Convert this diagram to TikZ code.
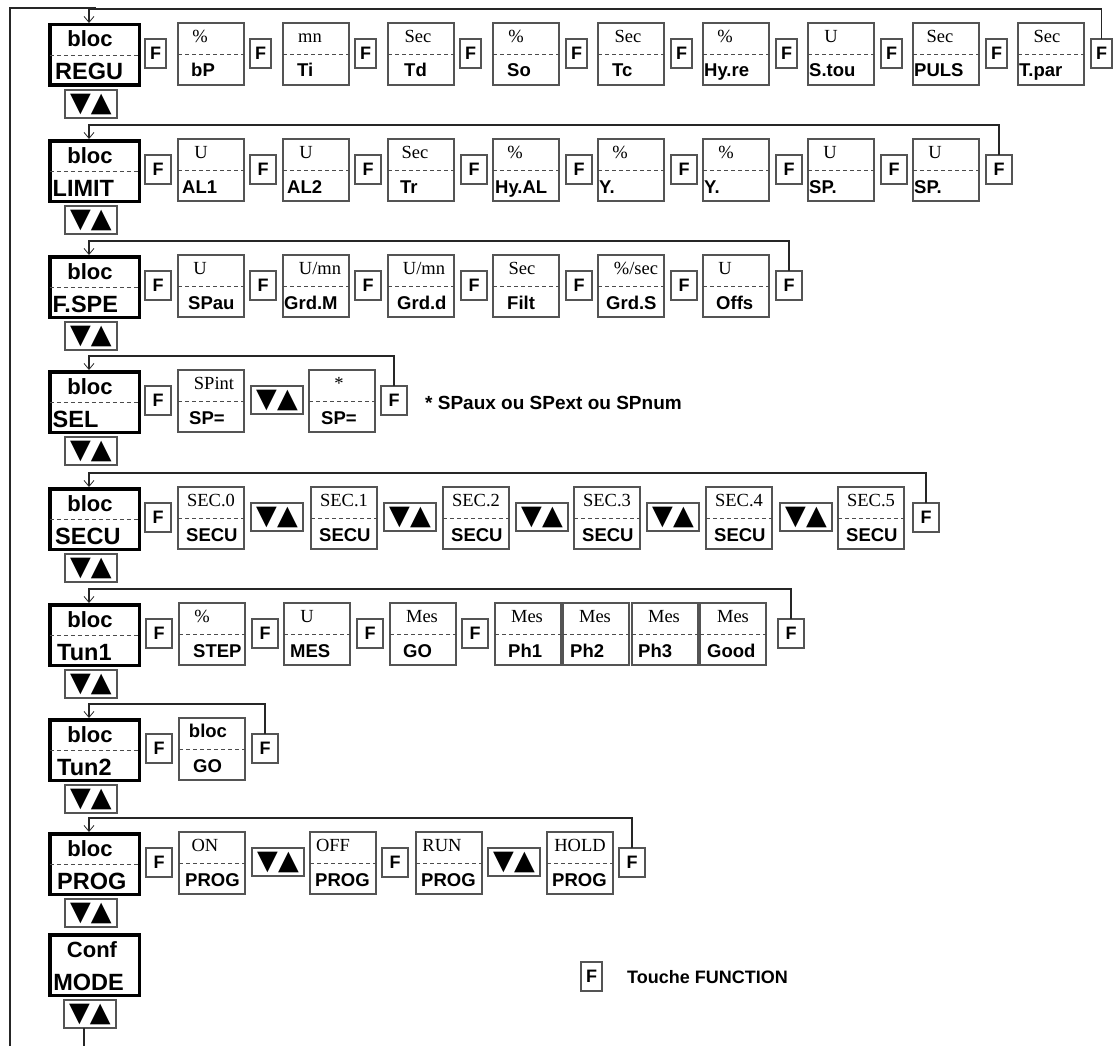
\documentclass[tikz,border=0pt]{standalone}
\usepackage{fontspec}
\setmainfont{Liberation Serif}
\setsansfont{Liberation Sans}
\newfontfamily\symfont{DejaVu Sans}
\usetikzlibrary{arrows.meta,calc}
\definecolor{bgray}{gray}{0.33}
\definecolor{dgray}{gray}{0.3}
\tikzset{
  vbox/.style={draw=bgray,line width=1.1pt,minimum width=66pt,minimum height=62pt,inner sep=0pt,outer sep=0pt},
  mbox/.style={draw=black,line width=3.5pt,minimum width=89.5pt,minimum height=60.5pt,inner sep=0pt,outer sep=0pt},
  fbox/.style={draw=bgray,line width=1.1pt,minimum width=26pt,minimum height=29pt,inner sep=0pt,outer sep=0pt,font=\sffamily\bfseries\fontsize{18}{18}\selectfont},
  udbox/.style={draw=bgray,line width=1.1pt,minimum width=52pt,minimum height=28pt,inner sep=0pt,outer sep=0pt,font=\symfont\fontsize{27}{27}\selectfont},
  dsh/.style={draw=dgray,line width=0.9pt,dash pattern=on 4pt off 3pt},
  unitlab/.style={anchor=base,inner sep=0pt,font=\fontsize{18.5}{18.5}\selectfont},
  vallab/.style={anchor=base west,inner sep=0pt,font=\sffamily\bfseries\fontsize{18.5}{18.5}\selectfont},
  mainlab/.style={inner sep=0pt,font=\sffamily\bfseries\fontsize{22}{22}\selectfont},
  mainbig/.style={inner sep=0pt,font=\sffamily\bfseries\fontsize{23.5}{23.5}\selectfont},
  conn/.style={draw=black!85,line width=1.1pt},
  arr/.style={-{Straight Barb[length=6pt,width=10pt,line width=0.8pt]}},
  note/.style={inner sep=0pt,anchor=base west,font=\sffamily\bfseries\fontsize{19}{19}\selectfont},
  legnote/.style={inner sep=0pt,anchor=base west,font=\sffamily\bfseries\fontsize{18}{18}\selectfont},
}
% name, x, top, unit, unit centre offset, label, label left offset
\newcommand\valbox[7]{%
  \node[vbox,anchor=north west] (#1) at (#2,#3) {};
  \draw[dsh] (#1.west) -- (#1.east);
  \node[unitlab] (#1u) at ($(#1.north west)+(#5,19.5)$) {#4};
  \node[vallab] (#1l) at ($(#1.north west)+(#7,54)$) {#6};
}
% name, x, row top, width
\newcommand\fkey[4]{%
  \node[fbox,minimum width=#4pt,anchor=north west] (#1) at (#2,#3+16) {F};
}
% name, x, y
\newcommand\udkey[3]{%
  \node[udbox,anchor=north west] (#1) at (#2,#3) {▼▲};
}
% name, row top, top text, bottom text, bottom x
\newcommand\mainblk[5]{%
  \node[mbox,anchor=north west] (#1) at (49.75,#2+1.75) {};
  \draw[dsh] (#1.west) -- (#1.east);
  \node[mainlab,anchor=base] (#1t) at (90,#2+24) {#3};
  \node[mainbig,anchor=base west] (#1b) at (#5,#2+57) {#4};
  \udkey{#1ud}{65}{#2+67}
  \coordinate (#1in) at (89,#2);
}
% last F, main block, row top
\newcommand\loopback[3]{%
  \draw[conn,arr] (#1.north) |- (89,#3-14) -- (#2in);
}
\begin{document}
\begin{tikzpicture}[x=1pt,y=-1pt]
\useasboundingbox (0,0) rectangle (1115,1046);
% ---------- row 1
\mainblk{m1}{23}{bloc}{REGU}{55}
\fkey{r1f0}{145}{23}{21}
\valbox{r1b1}{178}{23}{\%}{22}{bP}{13}
\fkey{r1f1}{250}{23}{21}
\valbox{r1b2}{283}{23}{mn}{27}{Ti}{14}
\fkey{r1f2}{355}{23}{21}
\valbox{r1b3}{388}{23}{Sec}{30}{Td}{16}
\fkey{r1f3}{460}{23}{21}
\valbox{r1b4}{493}{23}{\%}{23}{So}{14}
\fkey{r1f4}{566}{23}{21}
\valbox{r1b5}{598}{23}{Sec}{30}{Tc}{14}
\fkey{r1f5}{671}{23}{21}
\valbox{r1b6}{703}{23}{\%}{22}{Hy.re}{1}
\fkey{r1f6}{776}{23}{21}
\valbox{r1b7}{808}{23}{U}{23}{S.tou}{1}
\fkey{r1f7}{881}{23}{21}
\valbox{r1b8}{913}{23}{Sec}{27}{PULS}{1}
\fkey{r1f8}{986}{23}{21}
\valbox{r1b9}{1018}{23}{Sec}{29}{T.par}{1}
\fkey{r1f9}{1091}{23}{21}
\loopback{r1f9}{m1}{23}
% ---------- row 2
\mainblk{m2}{139}{bloc}{LIMIT}{52.5}
\fkey{r2f0}{145}{139}{26}
\valbox{r2b1}{178}{139}{U}{23}{AL1}{4}
\fkey{r2f1}{250}{139}{26}
\valbox{r2b2}{283}{139}{U}{23}{AL2}{4}
\fkey{r2f2}{355}{139}{26}
\valbox{r2b3}{388}{139}{Sec}{27}{Tr}{12}
\fkey{r2f3}{461}{139}{26}
\valbox{r2b4}{493}{139}{\%}{22}{Hy.AL}{2}
\fkey{r2f4}{566}{139}{26}
\valbox{r2b5}{598}{139}{\%}{22}{Y.}{1}
\fkey{r2f5}{671}{139}{26}
\valbox{r2b6}{703}{139}{\%}{23}{Y.}{1}
\fkey{r2f6}{776}{139}{26}
\valbox{r2b7}{808}{139}{U}{22}{SP.}{1}
\fkey{r2f7}{881}{139}{26}
\valbox{r2b8}{913}{139}{U}{22}{SP.}{1}
\fkey{r2f8}{986}{139}{26}
\loopback{r2f8}{m2}{139}
% ---------- row 3
\mainblk{m3}{255}{bloc}{F.SPE}{52.5}
\fkey{r3f0}{145}{255}{26}
\valbox{r3b1}{178}{255}{U}{22}{SPau}{10}
\fkey{r3f1}{250}{255}{26}
\valbox{r3b2}{283}{255}{U/mn}{37}{Grd.M}{1}
\fkey{r3f2}{355}{255}{26}
\valbox{r3b3}{388}{255}{U/mn}{36}{Grd.d}{9}
\fkey{r3f3}{461}{255}{26}
\valbox{r3b4}{493}{255}{Sec}{29}{Filt}{14}
\fkey{r3f4}{566}{255}{26}
\valbox{r3b5}{598}{255}{\%/sec}{38}{Grd.S}{8}
\fkey{r3f5}{671}{255}{26}
\valbox{r3b6}{703}{255}{U}{22}{Offs}{13}
\fkey{r3f6}{776}{255}{26}
\loopback{r3f6}{m3}{255}
% ---------- row 4
\mainblk{m4}{370}{bloc}{SEL}{52.5}
\fkey{r4f0}{145}{370}{26}
\valbox{r4b1}{178}{370}{SPint}{36}{SP=}{11}
\udkey{r4u1}{251}{386}
\valbox{r4b2}{309}{370}{*}{30}{SP=}{12}
\fkey{r4f1}{381}{370}{26}
\loopback{r4f1}{m4}{370}
\node[note] (selnote) at (425,409) {* SPaux ou SPext ou SPnum};
% ---------- row 5
\mainblk{m5}{487}{bloc}{SECU}{55}
\fkey{r5f0}{145}{487}{26}
\valbox{r5b0}{178}{487}{SEC.0}{33}{SECU}{8}
\udkey{r5u1}{251}{503}
\valbox{r5b1}{311}{487}{SEC.1}{33}{SECU}{8}
\udkey{r5u2}{384}{503}
\valbox{r5b2}{443}{487}{SEC.2}{33}{SECU}{8}
\udkey{r5u3}{516}{503}
\valbox{r5b3}{574}{487}{SEC.3}{33}{SECU}{8}
\udkey{r5u4}{647}{503}
\valbox{r5b4}{706}{487}{SEC.4}{33}{SECU}{8}
\udkey{r5u5}{780}{503}
\valbox{r5b5}{838}{487}{SEC.5}{33}{SECU}{8}
\fkey{r5f1}{913}{487}{26}
\loopback{r5f1}{m5}{487}
% ---------- row 6
\mainblk{m6}{603}{bloc}{Tun1}{57}
\fkey{r6f0}{146}{603}{26}
\valbox{r6b1}{179}{603}{\%}{23}{STEP}{14}
\fkey{r6f1}{252}{603}{26}
\valbox{r6b2}{284}{603}{U}{23}{MES}{6}
\fkey{r6f2}{357}{603}{26}
\valbox{r6b3}{390}{603}{Mes}{32}{GO}{13}
\fkey{r6f3}{462}{603}{26}
\valbox{r6b4}{495}{603}{Mes}{32}{Ph1}{13}
\valbox{r6b5}{563}{603}{Mes}{32}{Ph2}{7}
\valbox{r6b6}{632}{603}{Mes}{32}{Ph3}{6}
\valbox{r6b7}{700}{603}{Mes}{33}{Good}{7}
\fkey{r6f4}{778}{603}{26}
\loopback{r6f4}{m6}{603}
% ---------- row 7
\mainblk{m7}{718}{bloc}{Tun2}{57}
\fkey{r7f0}{146}{718}{26}
\valbox{r7b1}{179}{718}{\sffamily\bfseries bloc}{29}{GO}{14}
\fkey{r7f1}{252}{718}{26}
\loopback{r7f1}{m7}{718}
% ---------- row 8
\mainblk{m8}{832}{bloc}{PROG}{57}
\fkey{r8f0}{146}{832}{26}
\valbox{r8b1}{179}{832}{ON}{26}{PROG}{6}
\udkey{r8u1}{252}{848}
\valbox{r8b2}{310}{832}{OFF}{23}{PROG}{5}
\fkey{r8f1}{382}{832}{26}
\valbox{r8b3}{416}{832}{RUN}{26}{PROG}{5}
\udkey{r8u2}{488}{848}
\valbox{r8b4}{547}{832}{HOLD}{33}{PROG}{5}
\fkey{r8f2}{619}{832}{26}
\loopback{r8f2}{m8}{832}
% ---------- Conf MODE
\node[mbox,anchor=north west] (m9) at (49.75,934.75) {};
\node[mainlab,anchor=base] (m9t) at (92,957) {Conf};
\node[mainbig,anchor=base] (m9b) at (88.5,990) {MODE};
\udkey{m9ud}{64}{1000}
% ---------- outer loop
\coordinate (outBot) at (10,1046);
\coordinate (outTop) at (10,8);
\coordinate (outJoin) at (96,8);
\draw[conn] (outBot) -- (outTop) -- (outJoin);
\coordinate (modeOut) at (84,1046);
\draw[conn] (m9ud.south -| modeOut) -- (modeOut);
% ---------- legend
\node[fbox,minimum width=21pt,anchor=north west] (legF) at (581,962) {F};
\node[legnote] (legT) at (627,983) {Touche FUNCTION};
\end{tikzpicture}
\end{document}
